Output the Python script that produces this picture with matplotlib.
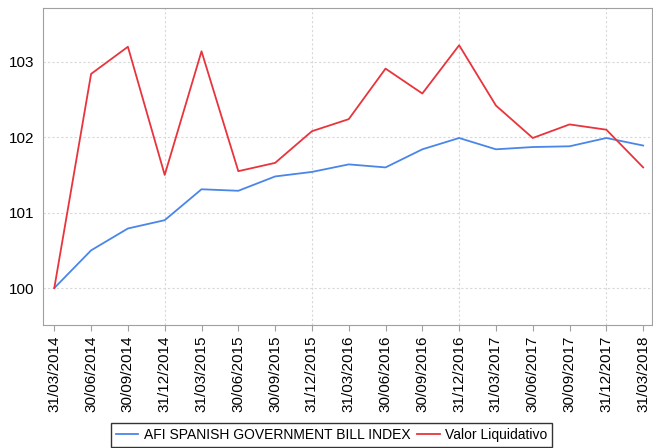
import matplotlib
matplotlib.use("Agg")
import matplotlib.pyplot as plt

plt.rcParams['font.family'] = ['Liberation Sans', 'DejaVu Sans']

dates = ["31/03/2014", "30/06/2014", "30/09/2014", "31/12/2014", "31/03/2015",
         "30/06/2015", "30/09/2015", "31/12/2015", "31/03/2016", "30/06/2016",
         "30/09/2016", "31/12/2016", "31/03/2017", "30/06/2017", "30/09/2017",
         "31/12/2017", "31/03/2018"]
index_values = [100.0, 100.50, 100.79, 100.90, 101.31, 101.29, 101.48, 101.54, 101.64,
                101.60, 101.84, 101.99, 101.84, 101.87, 101.88, 101.99, 101.89]
valor_liquidativo = [100.0, 102.84, 103.20, 101.50, 103.14, 101.55, 101.66, 102.08, 102.24,
                     102.91, 102.58, 103.22, 102.42, 101.99, 102.17, 102.10, 101.60]
series_names = ["AFI SPANISH GOVERNMENT BILL INDEX", "Valor Liquidativo"]
y_ticks = [100, 101, 102, 103]

fig = plt.figure(figsize=(6.53, 4.48), dpi=100)
ax = fig.add_axes([42.7 / 653, 1 - 325 / 448, (652 - 42.7) / 653, (325 - 8.3) / 448])

x = list(range(len(dates)))
ax.plot(x, index_values, color="#4a86e8", lw=1.3, label=series_names[0])
ax.plot(x, valor_liquidativo, color="#e8343c", lw=1.3, label=series_names[1])

ax.set_xlim(-0.315, 16.24)
ax.set_ylim(99.51, 103.71)
ax.set_xticks(x)
ax.set_xticklabels(dates, rotation=90, fontsize=11)
ax.set_yticks(y_ticks)
ax.set_yticklabels([str(v) for v in y_ticks], fontsize=11)

# grid: horizontal at y ticks, vertical at year ends
for v in y_ticks:
    ax.axhline(v, color="#d8d8d8", lw=0.8, ls=(0, (2, 2)), zorder=0)
for i, d in enumerate(dates):
    if d.startswith("31/12"):
        ax.axvline(i, color="#d8d8d8", lw=0.8, ls=(0, (2, 2)), zorder=0)

for s in ax.spines.values():
    s.set_color("#a0a0a0")
ax.tick_params(axis='both', colors="#a0a0a0", labelcolor="black", length=4)
ax.tick_params(axis='y', length=0, pad=6)

leg = fig.legend(loc="upper center", bbox_to_anchor=(0.508, 1 - 423 / 448), ncol=2,
                 fontsize=10, frameon=True, fancybox=False, edgecolor="black",
                 handlelength=1.6, handletextpad=0.4, columnspacing=0.5,
                 borderpad=0.35, borderaxespad=0)
leg.get_frame().set_linewidth(1.0)

fig.savefig("out.png", dpi=100)
